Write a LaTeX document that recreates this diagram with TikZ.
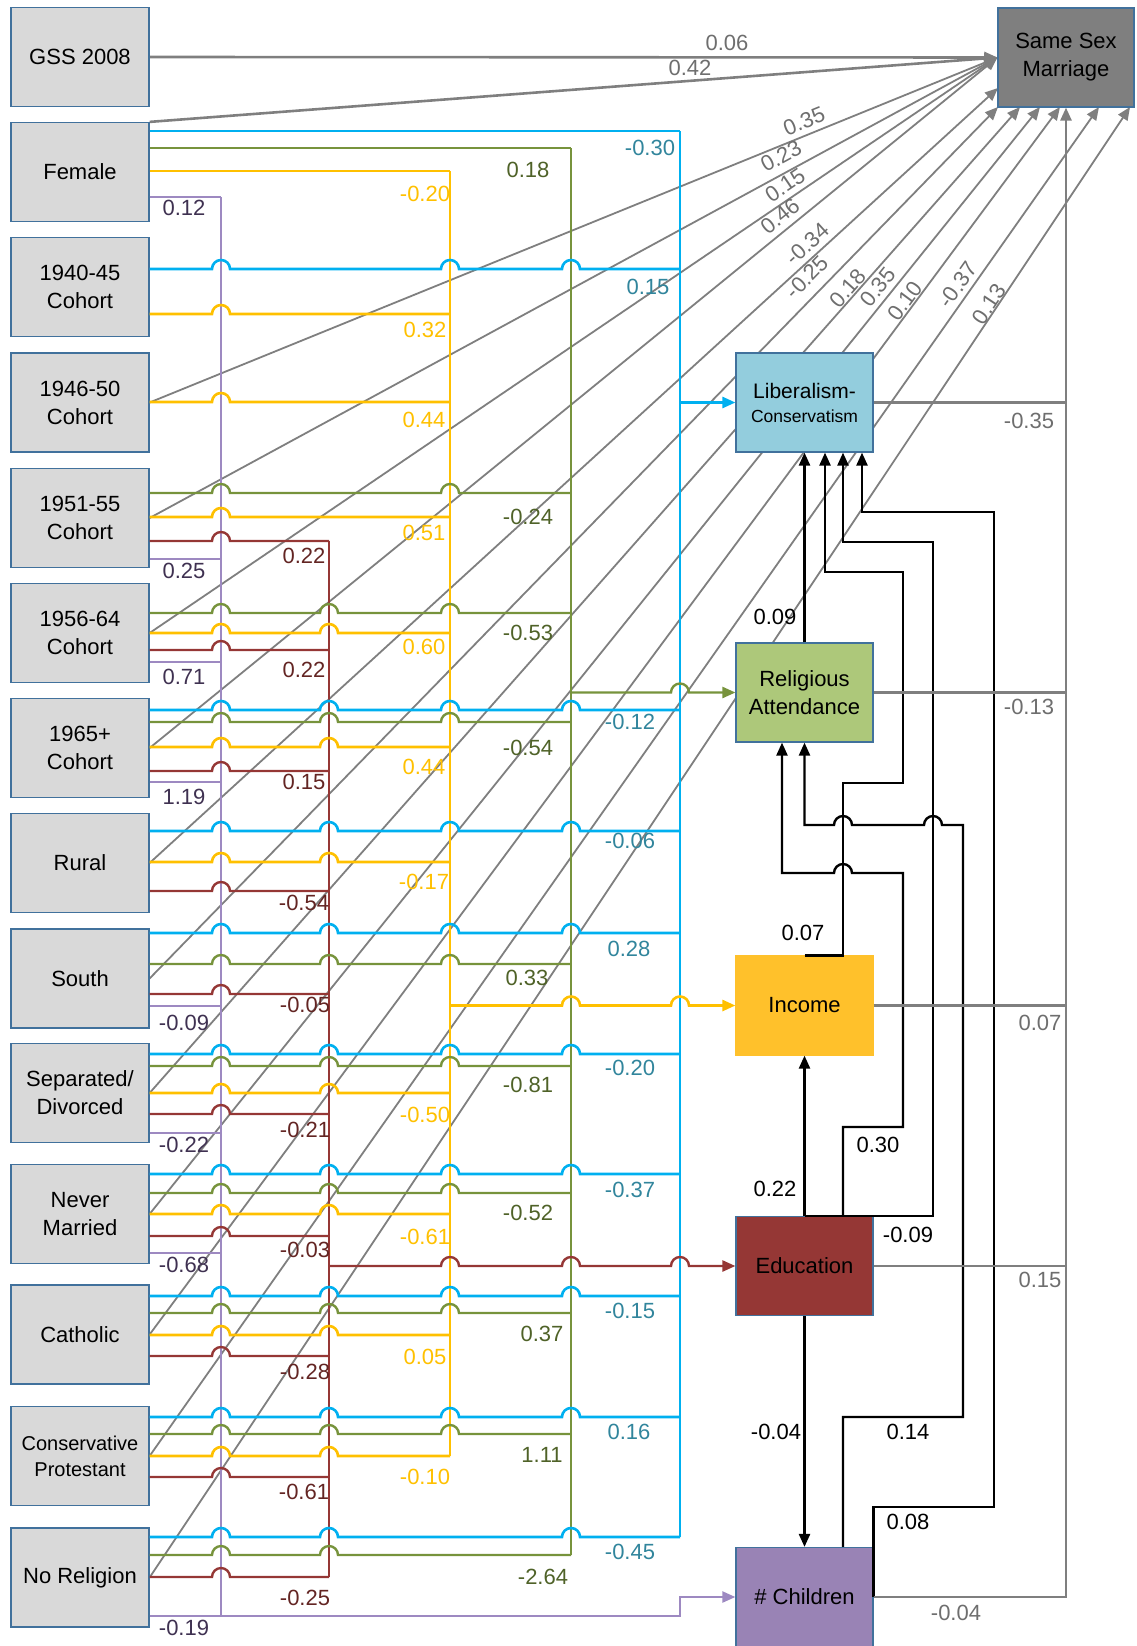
\documentclass[tikz,border=0pt]{standalone}
\usepackage{fontspec}
\setmainfont{Liberation Sans}
\usetikzlibrary{arrows.meta}
\pgfdeclarelayer{bg}
\pgfsetlayers{bg,main}
\definecolor{cBlue}{HTML}{00B0F0}
\definecolor{cGreen}{HTML}{77933C}
\definecolor{cYellow}{HTML}{FFC000}
\definecolor{cRed}{HTML}{953735}
\definecolor{cPurple}{HTML}{9D89C1}
\definecolor{cGray}{HTML}{7F7F7F}
\definecolor{tBlue}{HTML}{31859C}
\definecolor{tGreen}{HTML}{4F6228}
\definecolor{tYellow}{HTML}{FFC000}
\definecolor{tRed}{HTML}{632523}
\definecolor{tPurple}{HTML}{3F3151}
\definecolor{tGray}{HTML}{6E6E6E}
\definecolor{bord}{HTML}{41719C}
\definecolor{fLeft}{HTML}{D9D9D9}
\definecolor{fSSM}{HTML}{7F7F7F}
\definecolor{fLib}{HTML}{93CDDD}
\definecolor{fRel}{HTML}{ADC87A}
\definecolor{fInc}{HTML}{FFC12B}
\definecolor{fEdu}{HTML}{953735}
\definecolor{fChi}{HTML}{9983B5}
\newcommand\myfs{\fontsize{22pt}{28pt}\selectfont}
% horizontal line with hops: style, start, y, hop list, end
\newcommand\hopl[5]{\draw[#1] (#2) \foreach \hx in {#4}{ -- (\hx-9,#3) arc[start angle=180,end angle=0,radius=9pt]} -- (#5);}
\begin{document}
\begin{tikzpicture}[x=1pt,y=-1pt,
  box/.style={draw=bord, line width=1.2pt, minimum width=138pt, minimum height=99pt, inner sep=0pt, align=center, font=\myfs, text=black},
  lbox/.style={box, fill=fLeft},
  lab/.style={font=\myfs, inner sep=0pt},
  bl/.style={cBlue, line width=2.6pt},
  gn/.style={cGreen, line width=2.4pt},
  yl/.style={cYellow, line width=2.6pt},
  rd/.style={cRed, line width=2.4pt},
  pu/.style={cPurple, line width=2.2pt},
  bk/.style={black, line width=2.4pt},
  gyk/.style={cGray, line width=2.6pt},
  gyd/.style={cGray, line width=1.8pt},
  arr/.style={-{Triangle[length=13pt,width=11pt]}},
]
\useasboundingbox (0,0) rectangle (1136,1646);

% ---------- left boxes ----------
\node[lbox] (gss) at (80,57) {GSS 2008};
\node[lbox] (fem) at (80,172) {Female};
\node[lbox] (c40) at (80,287) {1940-45\\Cohort};
\node[lbox] (c46) at (80,402.5) {1946-50\\Cohort};
\node[lbox] (c51) at (80,518) {1951-55\\Cohort};
\node[lbox] (c56) at (80,633) {1956-64\\Cohort};
\node[lbox] (c65) at (80,748) {1965+\\Cohort};
\node[lbox] (rur) at (80,863) {Rural};
\node[lbox] (sou) at (80,978.5) {South};
\node[lbox] (sep) at (80,1093) {Separated/\\Divorced};
\node[lbox] (nev) at (80,1214) {Never\\Married};
\node[lbox] (cat) at (80,1334.5) {Catholic};
\node[lbox, font=\fontsize{20pt}{26pt}\selectfont] (cpr) at (80,1456) {Conservative\\Protestant};
\node[lbox] (nor) at (80,1577.5) {No Religion};

% ---------- right boxes ----------
\node[box, fill=fSSM, minimum width=136pt] (ssm) at (1066,57.5) {Same Sex\\Marriage};
\node[box, fill=fLib, minimum width=137pt, font=\fontsize{21pt}{24pt}\selectfont] (lib) at (804.5,402.5) {Liberalism-\\{\fontsize{17.5pt}{24pt}\selectfont Conservatism}};
\node[box, fill=fRel, minimum width=137pt] (relig) at (804.5,692.5) {Religious\\Attendance};
\node[box, fill=fInc, draw=fInc, minimum width=137pt] (income) at (804.5,1005.5) {Income};
\node[box, fill=fEdu, minimum width=137pt] (edu) at (804.5,1266) {Education};
\node[box, fill=fChi, minimum width=137pt] (children) at (804.5,1597) {\# Children};

% ---------- gray paths to Same Sex Marriage (behind boxes) ----------
\coordinate (e1) at (998,88);
\coordinate (e2) at (998,107);
\coordinate (e3) at (1020,107);
\coordinate (e4) at (1040,107);
\coordinate (e5) at (1060,107);
\coordinate (e6) at (1099,107);
\coordinate (e7) at (1130,107);
\begin{pgfonlayer}{bg}
\draw[gyk,arr] (gss.east) -- (ssm.west);
\draw[gyk,arr] (fem.north east) -- (ssm.west);
\draw[gyd,arr] (c46.east) -- (ssm.west);
\draw[gyd,arr] (c51.east) -- (ssm.west);
\draw[gyd,arr] (c56.east) -- (ssm.west);
\draw[gyd,arr] (c65.east) -- (ssm.west);
\draw[gyd,arr] (rur.east) -- (e1);
\draw[gyd,arr] (sou.east) -- (e2);
\draw[gyd,arr] (sep.east) -- (e3);
\draw[gyd,arr] (nev.east) -- (e4);
\draw[gyd,arr] (cat.east) -- (e5);
\draw[gyd,arr] (cpr.east) -- (e6);
\draw[gyd,arr] (nor.east) -- (e7);
\end{pgfonlayer}

% ---------- vertical buses ----------
\draw[bl] (680,131) -- (680,1537);
\draw[gn] (571,148) -- (571,1555);
\draw[yl] (450,171) -- (450,1456);
\draw[rd] (329,541) -- (329,1577);
\draw[pu] (221,197) -- (221,1616);

% ---------- horizontal lines ----------
% Female
\draw[bl] (fem.east |- 0,131) -- (680,131);
\draw[gn] (fem.east |- 0,148) -- (571,148);
\draw[yl] (fem.east |- 0,171) -- (450,171);
\draw[pu] (fem.east |- 0,197) -- (221,197);
% 1940-45
\hopl{bl}{c40.east |- 0,269}{269}{221,450,571}{680,269}
\hopl{yl}{c40.east |- 0,314}{314}{221}{450,314}
% 1946-50
\hopl{yl}{c46.east |- 0,402}{402}{221}{450,402}
% 1951-55
\hopl{gn}{c51.east |- 0,493}{493}{221,450}{571,493}
\hopl{yl}{c51.east |- 0,517}{517}{221}{450,517}
\hopl{rd}{c51.east |- 0,541}{541}{221}{329,541}
\draw[pu] (c51.east |- 0,559) -- (221,559);
% 1956-64
\hopl{gn}{c56.east |- 0,613}{613}{221,329,450}{571,613}
\hopl{yl}{c56.east |- 0,633}{633}{221,329}{450,633}
\hopl{rd}{c56.east |- 0,650}{650}{221}{329,650}
\draw[pu] (c56.east |- 0,662) -- (221,662);
% 1965+
\hopl{bl}{c65.east |- 0,710}{710}{221,329,450,571}{680,710}
\hopl{gn}{c65.east |- 0,722}{722}{221,329,450}{571,722}
\hopl{yl}{c65.east |- 0,747}{747}{221,329}{450,747}
\hopl{rd}{c65.east |- 0,771}{771}{221}{329,771}
\draw[pu] (c65.east |- 0,782) -- (221,782);
% Rural
\hopl{bl}{rur.east |- 0,831}{831}{221,329,450,571}{680,831}
\hopl{yl}{rur.east |- 0,862}{862}{221,329}{450,862}
\hopl{rd}{rur.east |- 0,891}{891}{221}{329,891}
% South
\hopl{bl}{sou.east |- 0,933}{933}{221,329,450,571}{680,933}
\hopl{gn}{sou.east |- 0,964}{964}{221,329,450}{571,964}
\hopl{rd}{sou.east |- 0,994}{994}{221}{329,994}
\draw[pu] (sou.east |- 0,1006) -- (221,1006);
% Separated
\hopl{bl}{sep.east |- 0,1054}{1054}{221,329,450,571}{680,1054}
\hopl{gn}{sep.east |- 0,1066}{1066}{221,329,450}{571,1066}
\hopl{yl}{sep.east |- 0,1093}{1093}{221,329}{450,1093}
\hopl{rd}{sep.east |- 0,1114}{1114}{221}{329,1114}
\draw[pu] (sep.east |- 0,1133) -- (221,1133);
% Never married
\hopl{bl}{nev.east |- 0,1174}{1174}{221,329,450,571}{680,1174}
\hopl{gn}{nev.east |- 0,1193}{1193}{221,329,450}{571,1193}
\hopl{yl}{nev.east |- 0,1214}{1214}{221,329}{450,1214}
\hopl{rd}{nev.east |- 0,1236}{1236}{221}{329,1236}
\draw[pu] (nev.east |- 0,1253) -- (221,1253);
% Catholic
\hopl{bl}{cat.east |- 0,1296}{1296}{221,329,450,571}{680,1296}
\hopl{gn}{cat.east |- 0,1313}{1313}{221,329,450}{571,1313}
\hopl{yl}{cat.east |- 0,1335}{1335}{221,329}{450,1335}
\hopl{rd}{cat.east |- 0,1356}{1356}{221}{329,1356}
% Conservative Protestant
\hopl{bl}{cpr.east |- 0,1417}{1417}{221,329,450,571}{680,1417}
\hopl{gn}{cpr.east |- 0,1434}{1434}{221,329,450}{571,1434}
\hopl{yl}{cpr.east |- 0,1456}{1456}{221,329}{450,1456}
\hopl{rd}{cpr.east |- 0,1477}{1477}{221}{329,1477}
% No religion
\hopl{bl}{nor.east |- 0,1537}{1537}{221,329,571}{680,1537}
\hopl{gn}{nor.east |- 0,1555}{1555}{221,329}{571,1555}
\hopl{rd}{nor.east |- 0,1577}{1577}{221}{329,1577}
\draw[pu,arr] (nor.east |- 0,1616) -- (680,1616) |- (children.west);

% ---------- bus outputs ----------
\draw[bl,arr] (680,402.5) -- (lib.west);
\hopl{gn,arr}{571,692.5}{692.5}{680}{relig.west}
\hopl{yl,arr}{450,1005.5}{1005.5}{571,680}{income.west}
\hopl{rd,arr}{329,1266}{1266}{450,571,680}{edu.west}

% ---------- black paths among mediators ----------
\draw[bk,arr] (relig.north) -- (lib.south);
\draw[bk,arr] (income.north) -- (income.north -| 843,0) -- (843,783) -- (903,783) -- (903,572) -- (825,572) -- (lib.south -| 825,0);
\draw[bk,arr] (edu.north) -- (income.south);
\draw[bk,arr] (edu.north) -- (edu.north -| 933,0) -- (933,542) -- (843,542) -- (lib.south -| 843,0);
\draw[bk,arr] (edu.north -| 843,0) -- (843,1127) -- (903,1127) -- (903,873) -- (852,873) arc[start angle=0,end angle=180,radius=9pt] -- (782,873) -- (relig.south -| 782,0);
\draw[bk,arr] (children.north -| 843,0) -- (843,1417) -- (963,1417) -- (963,825) -- (942,825) arc[start angle=0,end angle=180,radius=9pt] -- (852,825) arc[start angle=0,end angle=180,radius=9pt] -- (relig.south |- 0,825) -- (relig.south);
\draw[bk,arr] (edu.south) -- (children.north);
\draw[bk,arr] (children.east) -- (children.east |- 0,1507) -- (994,1507) -- (994,512) -- (862,512) -- (lib.south -| 862,0);

% ---------- gray paths on the right ----------
\draw[gyk] (lib.east) -- (lib.east -| ssm.south);
\draw[gyk] (relig.east) -- (relig.east -| ssm.south);
\draw[gyk] (income.east) -- (income.east -| ssm.south);
\draw[gyk] (edu.east) -- (edu.east -| ssm.south);
\draw[gyk,arr] (children.east) -- (children.east -| ssm.south) -- (ssm.south);

% ---------- labels: gray ----------
\node[lab,tGray] (g01) at (727,43) {0.06};
\node[lab,tGray] (g02) at (690,68) {0.42};
\node[lab,tGray,rotate=22.1] (g03) at (804,121) {0.35};
\node[lab,tGray,rotate=28.5] (g04) at (781,156) {0.23};
\node[lab,tGray,rotate=34.1] (g05) at (785,185) {0.15};
\node[lab,tGray,rotate=39.1] (g06) at (780,216) {0.46};
\node[lab,tGray,rotate=42.4] (g07) at (807,244) {-0.34};
\node[lab,tGray,rotate=45.7] (g08) at (807,277) {-0.25};
\node[lab,tGray,rotate=48.5] (g09) at (848,288) {0.18};
\node[lab,tGray,rotate=51.2] (g10) at (878,287) {0.35};
\node[lab,tGray,rotate=53.4] (g11) at (905,301) {0.10};
\node[lab,tGray,rotate=54.8] (g12) at (958,285) {-0.37};
\node[lab,tGray,rotate=56.3] (g13) at (989,304) {0.13};
\node[lab,tGray] (g14) at (1029,421) {-0.35};
\node[lab,tGray] (g15) at (1029,707) {-0.13};
\node[lab,tGray] (g16) at (1040,1023) {0.07};
\node[lab,tGray] (g17) at (1040,1280) {0.15};
\node[lab,tGray] (g18) at (956,1613) {-0.04};

% ---------- labels: black ----------
\node[lab] (k1) at (775,617) {0.09};
\node[lab] (k2) at (803,933) {0.07};
\node[lab] (k3) at (878,1145) {0.30};
\node[lab] (k4) at (775,1189) {0.22};
\node[lab] (k5) at (908,1235) {-0.09};
\node[lab] (k6) at (776,1432) {-0.04};
\node[lab] (k7) at (908,1432) {0.14};
\node[lab] (k8) at (908,1522) {0.08};

% ---------- labels: blue ----------
\node[lab,tBlue] (b01) at (650,148) {-0.30};
\node[lab,tBlue] (b02) at (648,287) {0.15};
\node[lab,tBlue] (b03) at (630,722) {-0.12};
\node[lab,tBlue] (b04) at (630,841) {-0.06};
\node[lab,tBlue] (b05) at (629,949) {0.28};
\node[lab,tBlue] (b06) at (630,1068) {-0.20};
\node[lab,tBlue] (b07) at (630,1190) {-0.37};
\node[lab,tBlue] (b08) at (630,1311) {-0.15};
\node[lab,tBlue] (b09) at (629,1432) {0.16};
\node[lab,tBlue] (b10) at (630,1552) {-0.45};

% ---------- labels: green ----------
\node[lab,tGreen] (n01) at (528,170) {0.18};
\node[lab,tGreen] (n02) at (528,517) {-0.24};
\node[lab,tGreen] (n03) at (528,633) {-0.53};
\node[lab,tGreen] (n04) at (528,748) {-0.54};
\node[lab,tGreen] (n05) at (527,978) {0.33};
\node[lab,tGreen] (n06) at (528,1085) {-0.81};
\node[lab,tGreen] (n07) at (528,1213) {-0.52};
\node[lab,tGreen] (n08) at (542,1334) {0.37};
\node[lab,tGreen] (n09) at (542,1455) {1.11};
\node[lab,tGreen] (n10) at (543,1577) {-2.64};

% ---------- labels: yellow ----------
\node[lab,tYellow] (y01) at (425,194) {-0.20};
\node[lab,tYellow] (y02) at (425,330) {0.32};
\node[lab,tYellow] (y03) at (424,420) {0.44};
\node[lab,tYellow] (y04) at (424,533) {0.51};
\node[lab,tYellow] (y05) at (424,647) {0.60};
\node[lab,tYellow] (y06) at (424,767) {0.44};
\node[lab,tYellow] (y07) at (424,882) {-0.17};
\node[lab,tYellow] (y08) at (425,1115) {-0.50};
\node[lab,tYellow] (y09) at (425,1237) {-0.61};
\node[lab,tYellow] (y10) at (425,1357) {0.05};
\node[lab,tYellow] (y11) at (425,1477) {-0.10};

% ---------- labels: red ----------
\node[lab,tRed] (r01) at (304,556) {0.22};
\node[lab,tRed] (r02) at (304,670) {0.22};
\node[lab,tRed] (r03) at (304,782) {0.15};
\node[lab,tRed] (r04) at (304,903) {-0.54};
\node[lab,tRed] (r05) at (305,1005) {-0.05};
\node[lab,tRed] (r06) at (305,1130) {-0.21};
\node[lab,tRed] (r07) at (305,1250) {-0.03};
\node[lab,tRed] (r08) at (305,1372) {-0.28};
\node[lab,tRed] (r09) at (304,1492) {-0.61};
\node[lab,tRed] (r10) at (305,1598) {-0.25};

% ---------- labels: purple ----------
\node[lab,tPurple] (p01) at (184,208) {0.12};
\node[lab,tPurple] (p02) at (184,571) {0.25};
\node[lab,tPurple] (p03) at (184,677) {0.71};
\node[lab,tPurple] (p04) at (184,797) {1.19};
\node[lab,tPurple] (p05) at (184,1023) {-0.09};
\node[lab,tPurple] (p06) at (184,1145) {-0.22};
\node[lab,tPurple] (p07) at (184,1265) {-0.68};
\node[lab,tPurple] (p08) at (184,1628) {-0.19};
\end{tikzpicture}
\end{document}
